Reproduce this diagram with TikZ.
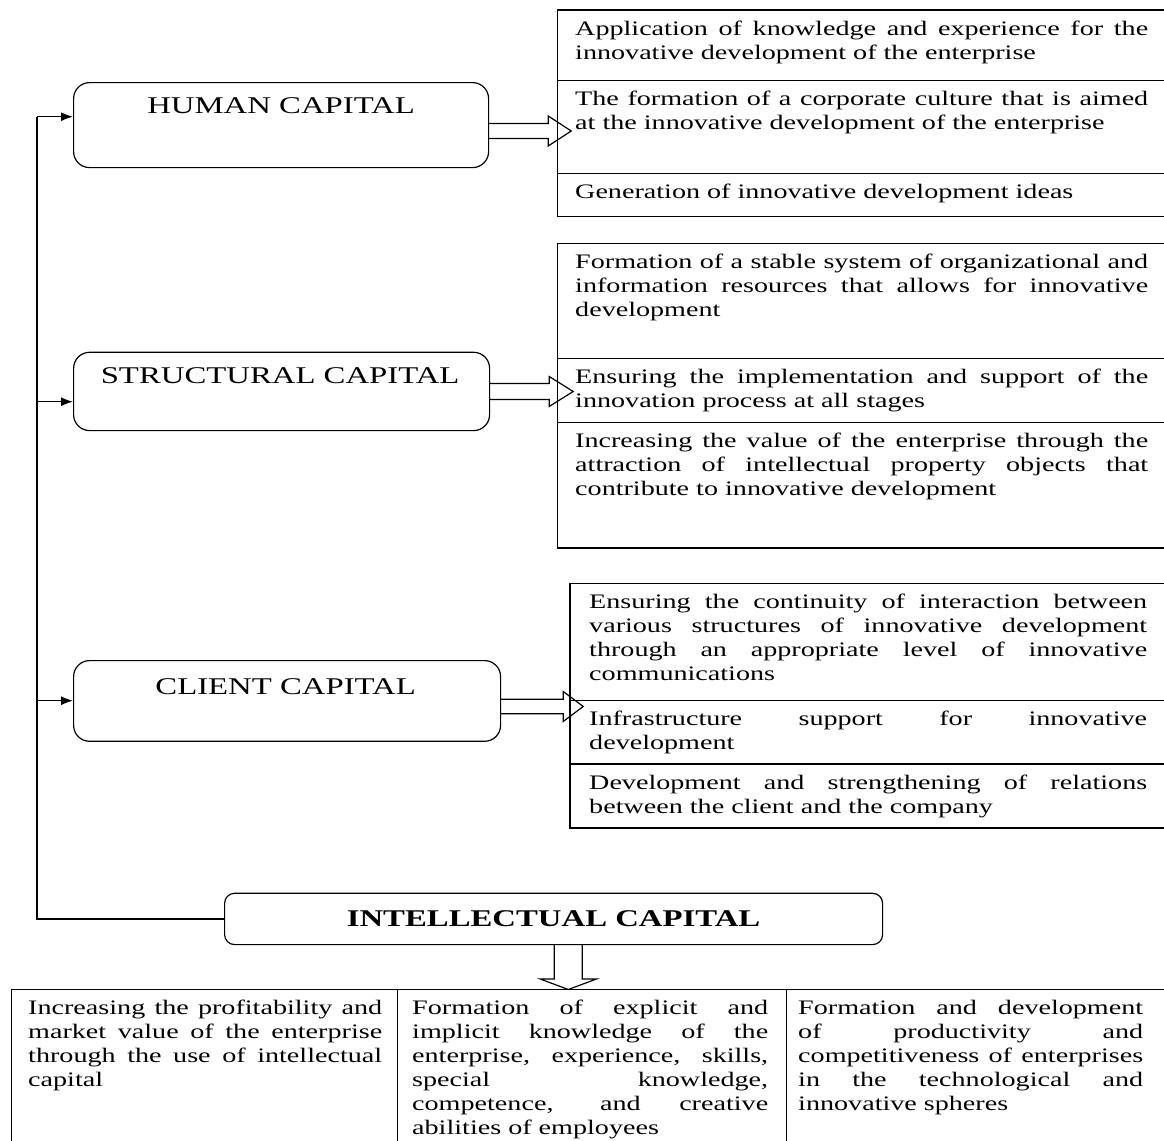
\documentclass[tikz,border=0pt]{standalone}
\usepackage{fontspec}
\setmainfont{Liberation Serif}[FakeStretch=1.365]
\usetikzlibrary{positioning,calc,arrows.meta}
\hyphenpenalty=10000
\exhyphenpenalty=10000

\begin{document}
\begin{tikzpicture}[x=1pt, y=-1pt,
    capbox/.style={draw, line width=1.2pt, rounded corners=16pt, anchor=north west, inner sep=0pt},
    cell/.style={draw, line width=1.2pt, anchor=north west, inner sep=0pt},
    celltext/.style={anchor=north west, inner sep=0pt, align=justify, font=\fontsize{20.6}{24}\selectfont},
    captext/.style={anchor=base, inner sep=0pt, font=\fontsize{24}{28}\selectfont},
    tip/.style={line width=1.2pt, -{Latex[length=12pt,width=9pt]}},
    hollow/.style={line width=1.2pt, line join=miter}]
    \useasboundingbox (0,0) rectangle (1164,1140);
    \fill[white] (0,0) rectangle (1164,1140);

    % Capital boxes
    \node[capbox, minimum width=415pt, minimum height=85pt] (hc) at (73,82) {};
    \node[captext] (hctxt) at ([yshift=-31.5pt]hc.north) {HUMAN CAPITAL};
    \node[capbox, minimum width=416pt, minimum height=78.3pt] (sc) at (73,351.7) {};
    \node[captext] (sctxt) at ([xshift=-1.5pt,yshift=-31.6pt]sc.north) {STRUCTURAL CAPITAL};
    \node[capbox, minimum width=427pt, minimum height=80.7pt] (cc) at (73,660) {};
    \node[captext] (cctxt) at ([xshift=-1.5pt,yshift=-34pt]cc.north) {CLIENT CAPITAL};
    \node[capbox, rounded corners=10pt, minimum width=658pt, minimum height=51.3pt,
        font=\bfseries\fontsize{24}{28}\selectfont] (ic) at (224,892.7) {INTELLECTUAL CAPITAL};

    % Human capital cells
    \foreach \nm/\top/\h/\txt in {
        h1/9.5/70.5/{Application of knowledge and experience for the\linebreak innovative development of the enterprise},
        h2/80/92.7/{The formation of a corporate culture that is aimed\linebreak at the innovative development of the enterprise},
        h3/172.7/43.3/{Generation of innovative development ideas}} {
        \node[cell, minimum width=613pt, minimum height=\h*1pt] (\nm) at (557,\top) {};
        \node[celltext, text width=573pt] (\nm txt) at (575,\top+11) {\txt};
    }

    % Structural capital cells
    \foreach \nm/\top/\h/\txt in {
        s1/243/114.7/{Formation of a stable system of organizational and\linebreak information resources that allows for innovative\linebreak development},
        s2/357.7/64/{Ensuring the implementation and support of the\linebreak innovation process at all stages},
        s3/421.7/125.6/{Increasing the value of the enterprise through the\linebreak attraction of intellectual property objects that\linebreak contribute to innovative development}} {
        \node[cell, minimum width=613pt, minimum height=\h*1pt] (\nm) at (557,\top) {};
        \node[celltext, text width=573pt] (\nm txt) at (575,\top+11) {\txt};
    }

    % Client capital cells
    \foreach \nm/\top/\h/\txt in {
        c1/582.7/117.3/{Ensuring the continuity of interaction between\linebreak various structures of innovative development\linebreak through an appropriate level of innovative\linebreak communications},
        c2/700/63.3/{Infrastructure support for innovative\linebreak development},
        c3/763.3/64/{Development and strengthening of relations\linebreak between the client and the company}} {
        \node[cell, minimum width=601pt, minimum height=\h*1pt] (\nm) at (569.4,\top) {};
        \node[celltext, text width=558pt] (\nm txt) at (589,\top+11) {\txt};
    }

    % Intellectual capital cells
    \foreach \nm/\x/\w/\tx/\tw/\txt in {
        i1/11/386/28/354/{Increasing the profitability and\linebreak market value of the enterprise\linebreak through the use of intellectual\linebreak capital},
        i2/397/389/412/356/{Formation of explicit and\linebreak implicit knowledge of the\linebreak enterprise, experience, skills,\linebreak special knowledge,\linebreak competence, and creative\linebreak abilities of employees},
        i3/786/384/798/345/{Formation and development\linebreak of productivity and\linebreak competitiveness of enterprises\linebreak in the technological and\linebreak innovative spheres}} {
        \node[cell, minimum width=\w*1pt, minimum height=161pt] (\nm) at (\x,989) {};
        \node[celltext, text width=\tw*1pt] (\nm txt) at (\tx,1000) {\txt};
    }

    % Hollow arrows
    \foreach \src/\yc/\hs/\len/\hl in {hc/131/7.5/59/23, sc/391.5/8/59/24, cc/706.5/7.3/62/20} {
        \draw[hollow] (\src.east |- 0,\yc-\hs) -- ++(\len,0) -- ++(0,\hs-15) -- ++(\hl,15)
            -- ++(-\hl,15) -- ++(0,\hs-15) -- ++(-\len,0);
    }
    \draw[hollow] (ic.south -| 554.3,0) -- ++(0,33.7) -- ++(-14.3,0) -- ++(28.3,10.6)
        -- ++(28.4,-10.6) -- ++(-14.4,0) -- ++(0,-33.7);

    % Feedback line
    \draw[line width=1.2pt] (ic.west) -- (ic.west -| 37,0) coordinate (busb) -- (37,116.7) coordinate (bust);
    \draw[tip] (bust) -- (bust -| hc.west);
    \draw[tip] (busb |- 0,401.7) -- (sc.west |- 0,401.7);
    \draw[tip] (busb |- 0,700.7) -- (cc.west |- 0,700.7);
\end{tikzpicture}
\end{document}
